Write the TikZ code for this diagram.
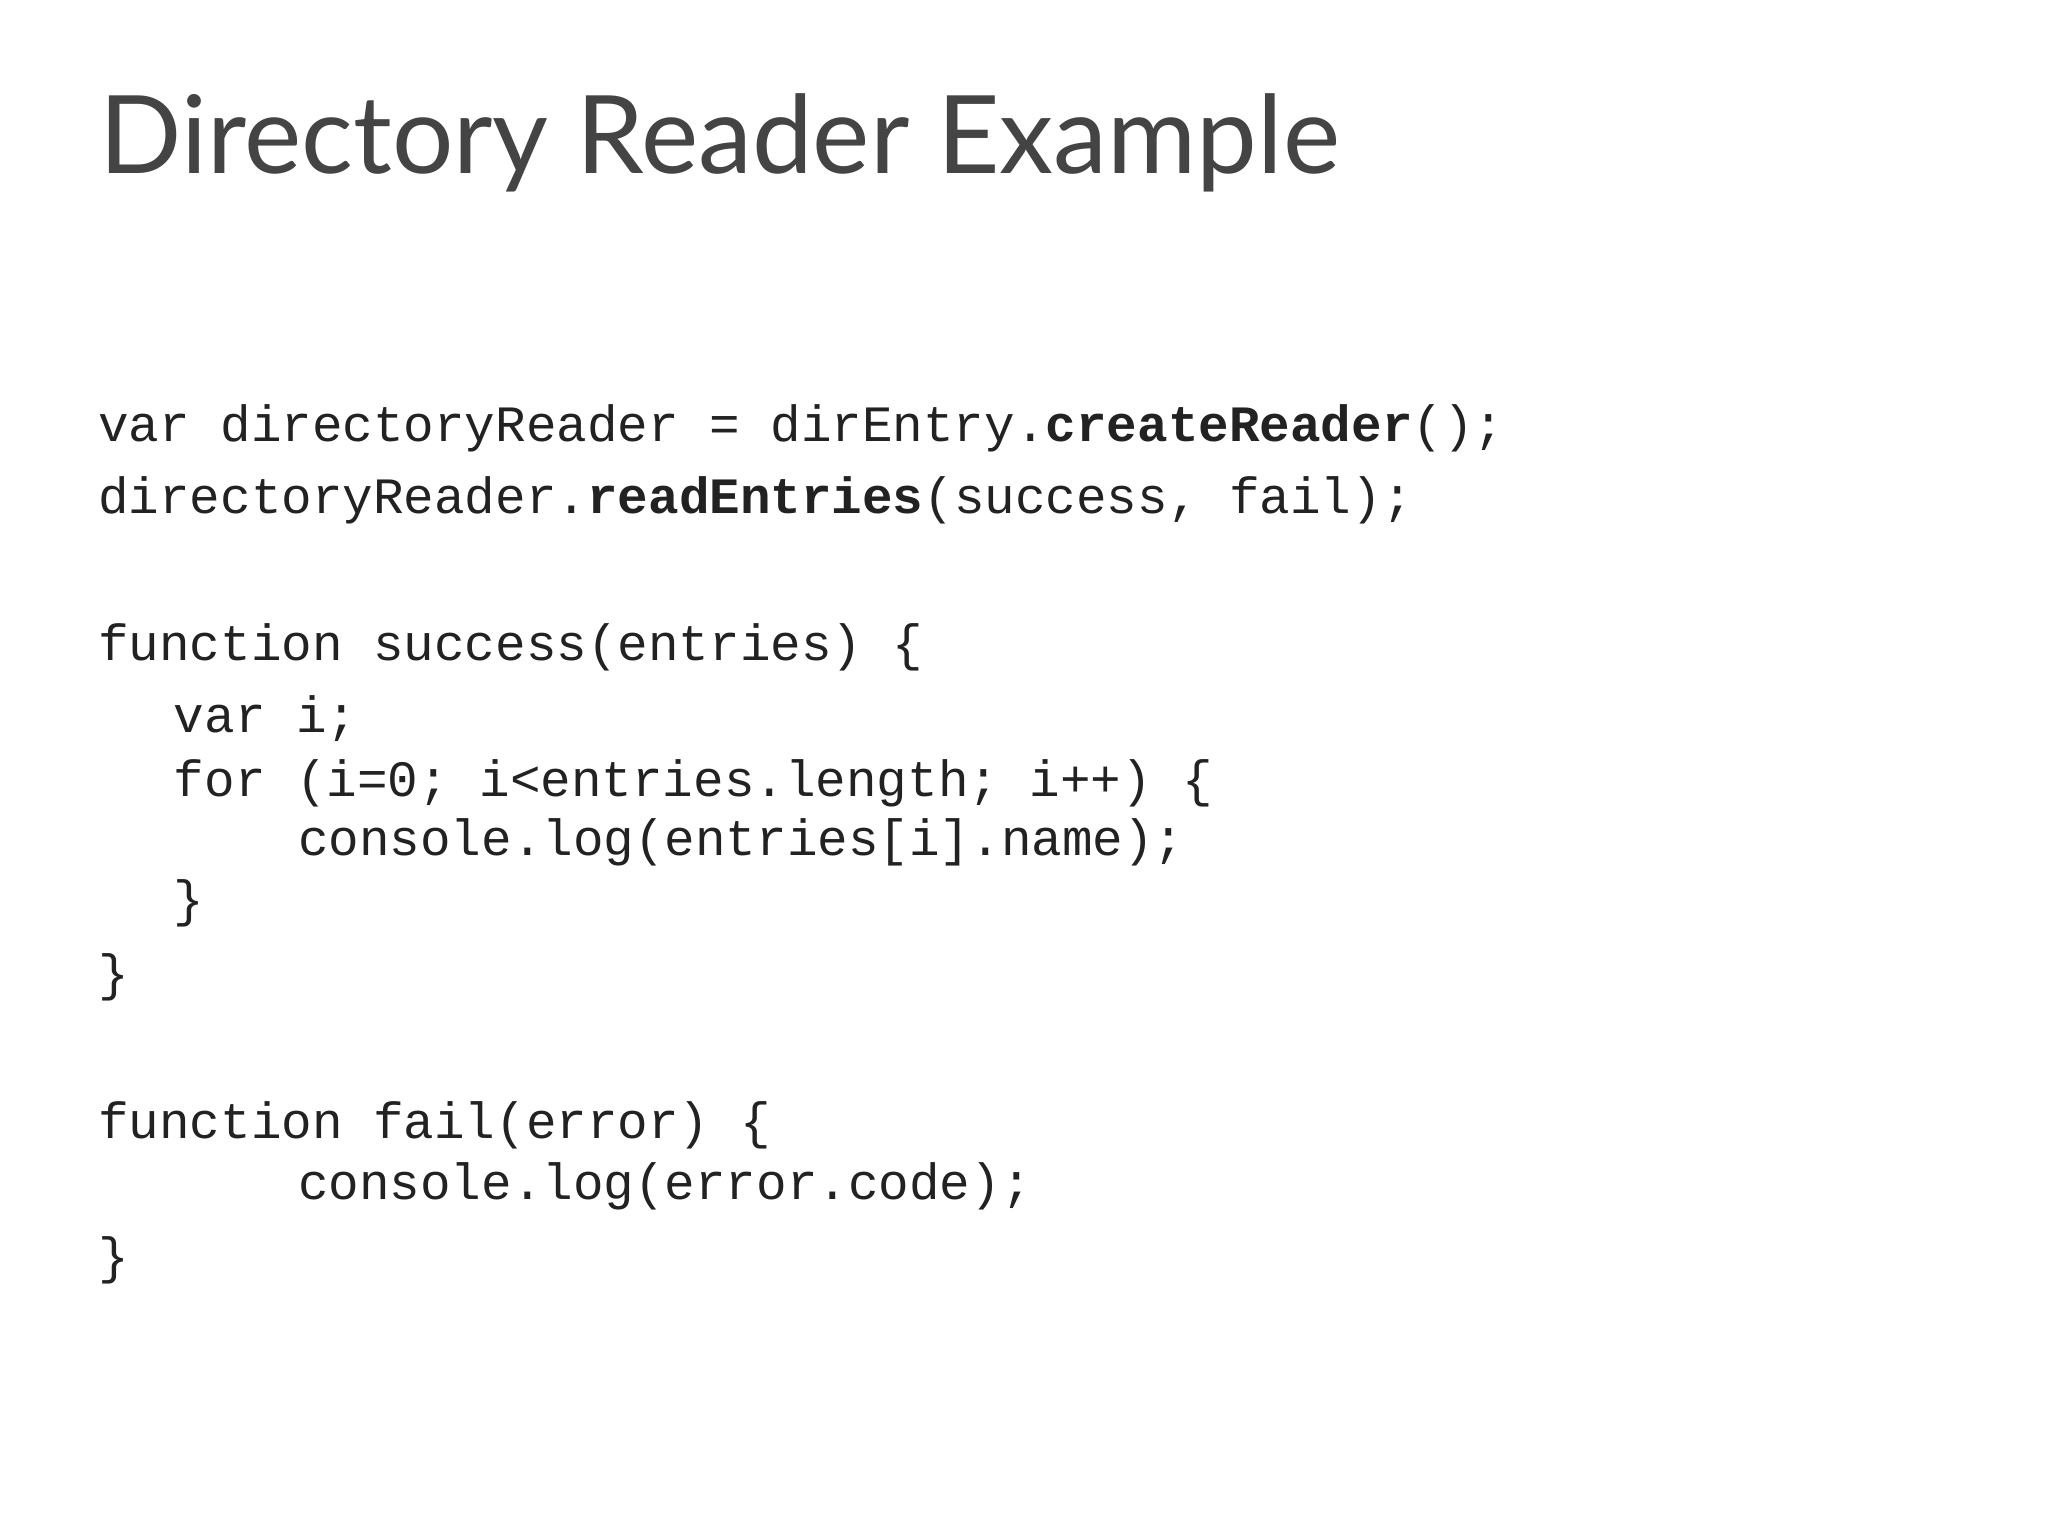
\documentclass[tikz,border=0pt]{standalone}
\usepackage{fontspec}
\setmainfont{Lato}
\newfontfamily\codefont{Liberation Mono}
\definecolor{titlec}{HTML}{444444}
\definecolor{codec}{HTML}{222222}
\begin{document}
\begin{tikzpicture}[x=1pt,y=-1pt,
  code/.style={anchor=base west,inner sep=0pt,text=codec,font=\codefont\fontsize{39}{39}\selectfont}]
\useasboundingbox[fill=white] (0,0) rectangle (1568,1176);
\node[anchor=base west,inner sep=0pt,text=titlec,font=\fontsize{83}{83}\selectfont] (title) at (76,133) {Directory Reader Example};
\node[code] (l1) at (75,338) {var directoryReader = dirEntry.\textbf{createReader}();};
\node[code] (l2) at (75,393) {directoryReader.\textbf{readEntries}(success, fail);};
\node[code] (l3) at (75,506) {function success(entries) \{};
\node[code] (l4) at (133,561) {var i;};
\node[code] (l5) at (133,610) {for (i=0; i<entries.length; i++) \{};
\node[code] (l6) at (228,655) {console.log(entries[i].name);};
\node[code] (l7) at (133,702) {\}};
\node[code] (l8) at (75,758) {\}};
\node[code] (l9) at (75,872) {function fail(error) \{};
\node[code] (l10) at (228,918) {console.log(error.code);};
\node[code] (l11) at (75,975) {\}};
\end{tikzpicture}
\end{document}
